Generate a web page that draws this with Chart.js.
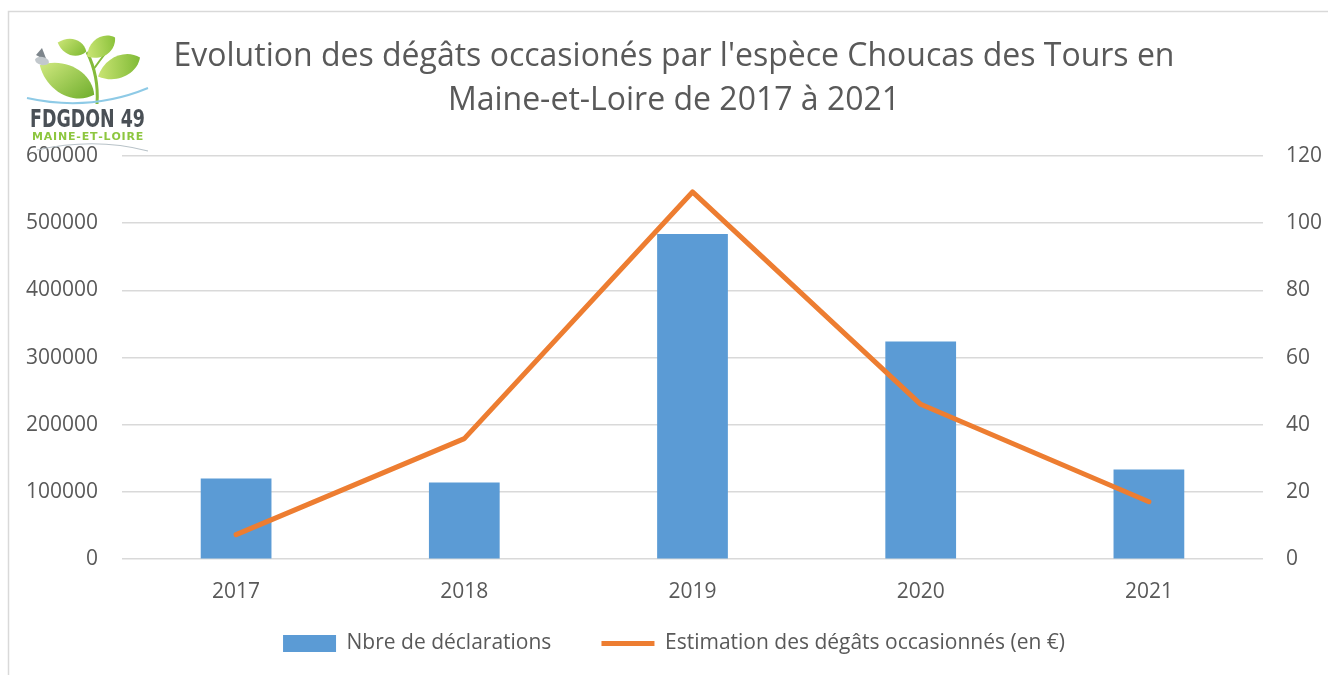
<!DOCTYPE html>
<html>
<head>
<meta charset="utf-8">
<script src="https://cdn.jsdelivr.net/npm/chart.js@4.4.1/dist/chart.umd.min.js"></script>
<style>
  html, body { margin: 0; padding: 0; background: #ffffff; }
  #wrap { width: 1328px; height: 675px; position: relative; }
</style>
</head>
<body>
<div id="wrap"><canvas id="c" width="1328" height="675"></canvas></div>
<script>
const years = ['2017', '2018', '2019', '2020', '2021'];
const declarations = [120000, 114000, 484000, 324000, 133500];
const damages = [7.3, 35.9, 109.3, 46.1, 17.1];
const leftTicks = [0, 100000, 200000, 300000, 400000, 500000, 600000];
const rightTicks = [0, 20, 40, 60, 80, 100, 120];
const titleLines = ["Evolution des dégâts occasionés par l'espèce Choucas des Tours en", "Maine-et-Loire de 2017 à 2021"];
const seriesNames = ['Nbre de déclarations', 'Estimation des dégâts occasionnés (en €)'];

const FONT = "'Open Sans', 'Liberation Sans', sans-serif";
const GRAY = '#595959';

const frameAndLogo = {
  id: 'frameAndLogo',
  afterDraw(chart) {
    const ctx = chart.ctx;
    ctx.save();
    // frame (top and left edges)
    ctx.strokeStyle = '#d9d9d9';
    ctx.lineWidth = 1.5;
    ctx.beginPath();
    ctx.moveTo(8.5, 675);
    ctx.lineTo(8.5, 11.5);
    ctx.lineTo(1328, 11.5);
    ctx.stroke();
    // logo: leaves
    function leaf(cx, cy, rx, ry, rot, c1, c2) {
      ctx.save();
      ctx.translate(cx, cy);
      ctx.rotate(rot);
      const g = ctx.createLinearGradient(-rx, -ry, rx, ry);
      g.addColorStop(0, c1);
      g.addColorStop(1, c2);
      ctx.fillStyle = g;
      ctx.beginPath();
      ctx.moveTo(-rx, 0);
      ctx.bezierCurveTo(-rx * 0.4, -ry * 1.5, rx * 0.6, -ry * 1.4, rx, 0);
      ctx.bezierCurveTo(rx * 0.6, ry * 1.4, -rx * 0.4, ry * 1.5, -rx, 0);
      ctx.fill();
      ctx.restore();
    }
    // stem
    ctx.strokeStyle = '#84bb3b';
    ctx.lineWidth = 3;
    ctx.beginPath();
    ctx.moveTo(97, 104);
    ctx.quadraticCurveTo(99, 76, 87, 52);
    ctx.stroke();
    ctx.lineWidth = 2;
    ctx.beginPath();
    ctx.moveTo(93, 70);
    ctx.quadraticCurveTo(100, 60, 108, 50);
    ctx.stroke();
    leaf(72, 47, 15, 7.5, 0.3, '#cfe77a', '#7cb82f');
    leaf(101, 47, 17, 8.5, -0.6, '#d3ea7c', '#82bd33');
    leaf(67, 80, 31, 13.5, 0.5, '#d6ec84', '#6aab28');
    leaf(119, 67, 23, 10, -0.42, '#d0e879', '#79b630');
    // butterfly
    ctx.fillStyle = '#7d858b';
    ctx.beginPath();
    ctx.moveTo(47, 61);
    ctx.lineTo(42, 48);
    ctx.lineTo(36, 55);
    ctx.closePath();
    ctx.fill();
    ctx.fillStyle = '#c2c8cc';
    ctx.beginPath();
    ctx.ellipse(42, 61, 7, 4, 0.2, 0, Math.PI * 2);
    ctx.fill();
    // blue arc
    ctx.strokeStyle = '#8ecae6';
    ctx.lineWidth = 2;
    ctx.beginPath();
    ctx.moveTo(27, 98);
    ctx.quadraticCurveTo(90, 112, 148, 88);
    ctx.stroke();
    // text
    ctx.fillStyle = '#4a5056';
    ctx.font = "bold 25px 'DejaVu Sans Condensed', 'Liberation Sans', sans-serif";
    ctx.textBaseline = 'alphabetic';
    ctx.textAlign = 'left';
    const brand = 'FDGDON 49';
    const bw = ctx.measureText(brand).width;
    ctx.save();
    ctx.translate(30, 127);
    ctx.scale(115 / bw, 1);
    ctx.fillText(brand, 0, 0);
    ctx.restore();
    ctx.fillStyle = '#8dc63f';
    ctx.font = "bold 11px 'DejaVu Sans', sans-serif";
    const t = 'MAINE-ET-LOIRE';
    let x = 32;
    for (const ch of t) {
      ctx.fillText(ch, x, 140);
      x += ctx.measureText(ch).width + 0.8;
    }
    // gray arc
    ctx.strokeStyle = '#b8c2c8';
    ctx.lineWidth = 1.2;
    ctx.beginPath();
    ctx.moveTo(37, 150);
    ctx.quadraticCurveTo(95, 137, 148, 151);
    ctx.stroke();
    ctx.restore();
  }
};

new Chart(document.getElementById('c'), {
  data: {
    labels: years,
    datasets: [
      {
        type: 'bar',
        label: seriesNames[0],
        data: declarations,
        backgroundColor: '#5b9bd5',
        borderWidth: 0,
        yAxisID: 'y',
        barPercentage: 0.31,
        categoryPercentage: 1.0,
        order: 2
      },
      {
        type: 'line',
        label: seriesNames[1],
        data: damages,
        borderColor: '#ed7d31',
        backgroundColor: '#ed7d31',
        borderWidth: 5,
        pointRadius: 0,
        pointHoverRadius: 0,
        tension: 0,
        borderJoinStyle: 'round',
        borderCapStyle: 'round',
        yAxisID: 'y1',
        order: 1
      }
    ]
  },
  options: {
    responsive: false,
    animation: false,
    events: [],
    layout: { padding: { left: 20, right: 0, top: 0, bottom: 11 } },
    plugins: {
      title: {
        display: true,
        text: titleLines,
        color: GRAY,
        font: { family: FONT, size: 32, weight: 'normal', lineHeight: '44px' },
        padding: { top: 35, bottom: 33 }
      },
      legend: {
        position: 'bottom',
        labels: {
          usePointStyle: true,
          pointStyleWidth: 53,
          boxHeight: 17,
          padding: 28.3,
          color: GRAY,
          font: { family: FONT, size: 21 },
          generateLabels(chart) {
            const items = Chart.defaults.plugins.legend.labels.generateLabels(chart);
            items.sort((a, b) => a.datasetIndex - b.datasetIndex);
            items.forEach(it => {
              if (it.datasetIndex === 0) {
                it.pointStyle = 'rect';
                it.lineWidth = 0;
                it.text = seriesNames[0] + '    ';
              } else {
                it.pointStyle = 'line';
                it.lineWidth = 5;
                it.strokeStyle = '#ed7d31';
              }
            });
            return items;
          }
        }
      },
      tooltip: { enabled: false }
    },
    scales: {
      x: {
        grid: { display: false, drawTicks: false },
        border: { display: false },
        ticks: { color: GRAY, font: { family: FONT, size: 21 }, padding: 20 },
        afterFit(s) { s.height = 45.5; }
      },
      y: {
        position: 'left',
        min: 0,
        max: 600000,
        afterBuildTicks(s) { s.ticks = leftTicks.map(v => ({ value: v })); },
        grid: { color: '#d9d9d9', lineWidth: 1.5, drawTicks: false },
        border: { display: false },
        ticks: { color: GRAY, font: { family: FONT, size: 21 }, padding: 24, callback: v => String(v) },
        afterFit(s) { s.width = 102; }
      },
      y1: {
        position: 'right',
        min: 0,
        max: 120,
        afterBuildTicks(s) { s.ticks = rightTicks.map(v => ({ value: v })); },
        grid: { display: false, drawTicks: false },
        border: { display: false },
        ticks: { color: GRAY, font: { family: FONT, size: 21 }, padding: 23, callback: v => String(v) },
        afterFit(s) { s.width = 65; }
      }
    }
  },
  plugins: [frameAndLogo]
});
</script>
</body>
</html>
